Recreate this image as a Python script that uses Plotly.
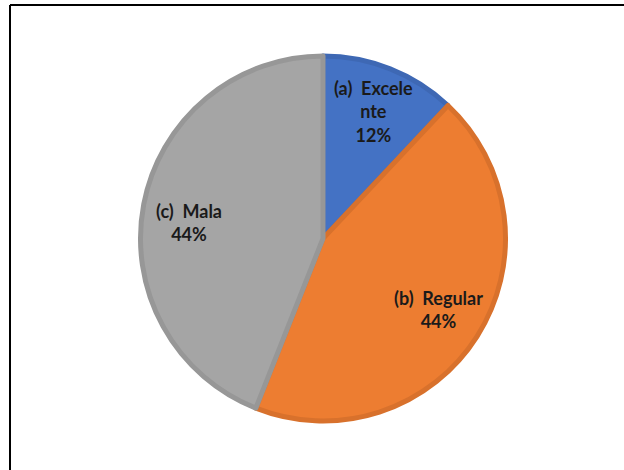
import math
import plotly.graph_objects as go

# Survey answers and their shares (%)
categories = ["(a)\u00a0 Excele<br>nte", "(b)\u00a0 Regular", "(c)\u00a0 Mala"]
values = [12, 44, 44]
fill_colors = ["#4472C4", "#ED7D31", "#A5A5A5"]
edge_colors = ["#3E68B4", "#D8712C", "#979797"]

# small vertical nudges (px) for the data labels
label_yshift = [0, 2, -10]

W, H = 624, 470
ml, mr, mt, mb = 139, 117, 56, 49
pw, ph = W - ml - mr, H - mt - mb

fig = go.Figure(
    go.Pie(
        labels=categories,
        values=values,
        sort=False,
        direction="clockwise",
        rotation=0,
        marker=dict(colors=fill_colors, line=dict(color=edge_colors, width=5)),
        textinfo="none",
        hoverinfo="label+percent",
        showlegend=False,
    )
)

# Data labels placed at each slice's mid-angle, inside the pie
total = sum(values)
radius_px = min(pw, ph) / 2
label_r = 0.75 * radius_px
start = 0.0
annotations = []
for name, v, dy in zip(categories, values, label_yshift):
    mid = (start + v / 2) / total * 2 * math.pi
    start += v
    px = label_r * math.sin(mid)
    py = label_r * math.cos(mid)
    pct = round(100 * v / total)
    annotations.append(
        dict(
            x=0.5 + px / pw,
            y=0.5 + py / ph,
            xref="paper",
            yref="paper",
            yshift=dy,
            text=f"{name}<br>{pct}%",
            showarrow=False,
            align="center",
            xanchor="center",
            yanchor="middle",
            font=dict(family="Lato", size=18, color="#1a1a1a", weight="bold"),
        )
    )

# Chart frame (left and top edges visible)
fx = (10 - ml) / pw
fy = 1 + (mt - 5) / ph
shapes = [
    dict(type="line", xref="paper", yref="paper", x0=fx, x1=fx, y0=fy, y1=-1,
         line=dict(color="black", width=2)),
    dict(type="line", xref="paper", yref="paper", x0=fx, x1=2, y0=fy, y1=fy,
         line=dict(color="black", width=2)),
]

fig.update_layout(
    width=W,
    height=H,
    margin=dict(l=ml, r=mr, t=mt, b=mb),
    paper_bgcolor="white",
    plot_bgcolor="white",
    annotations=annotations,
    shapes=shapes,
)

fig.write_html("out.html")
